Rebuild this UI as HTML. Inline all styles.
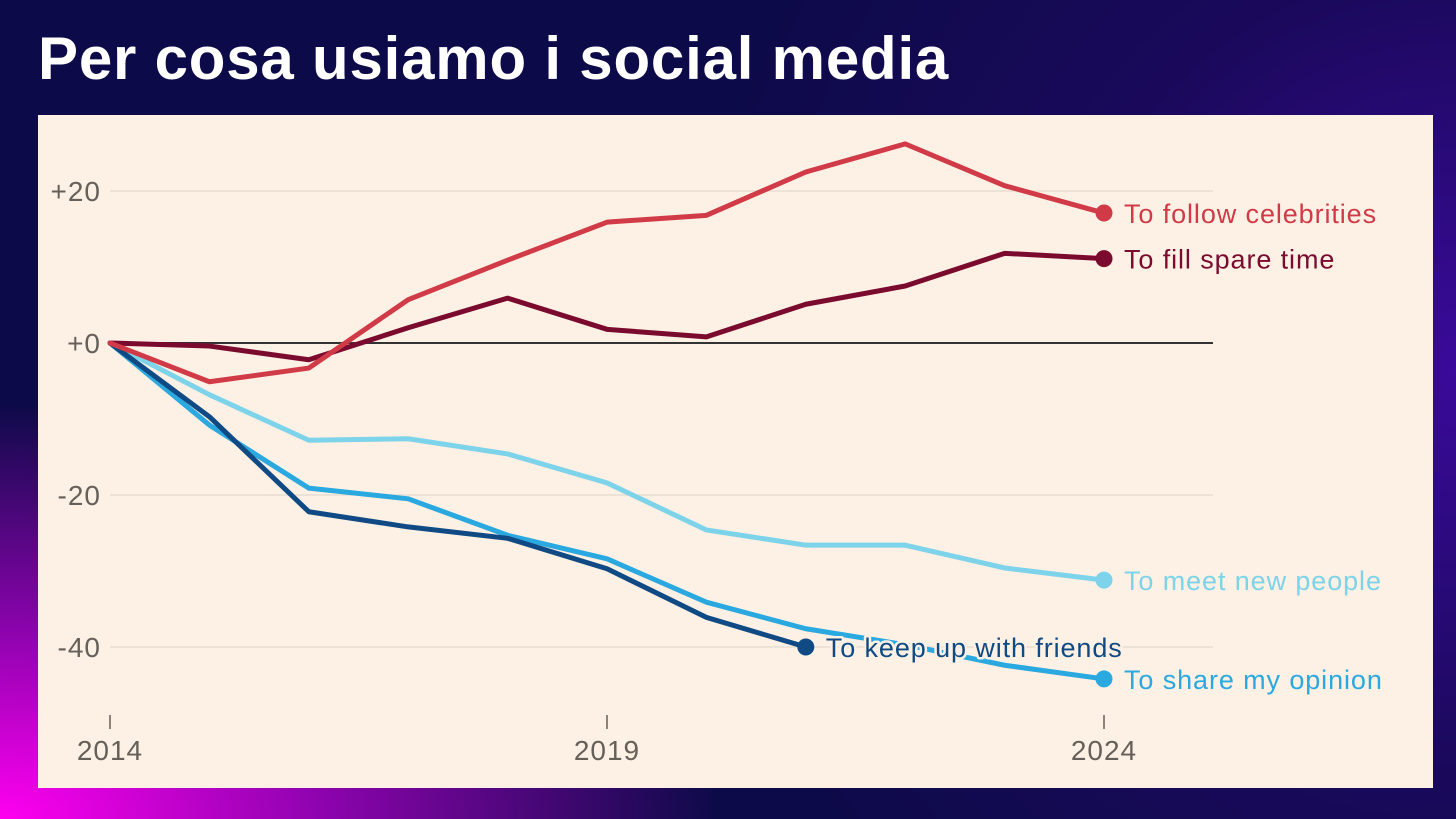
<!DOCTYPE html>
<html><head><meta charset="utf-8"><style>
html,body{margin:0;padding:0}
body{width:1456px;height:819px;overflow:hidden;position:relative;font-family:"Liberation Sans",sans-serif;
background:radial-gradient(ellipse 900px 520px at 0% 100%,#ff00f0 0%,rgba(200,0,220,0.7) 35%,rgba(60,0,120,0) 80%),
radial-gradient(ellipse 800px 800px at 100% 45%,#3a0a9a 0%,rgba(40,8,110,0.5) 50%,rgba(12,10,70,0) 100%),#0c0a48;}
#title{position:absolute;left:38px;top:24px;color:#fff;font-weight:bold;font-size:60px;letter-spacing:0.8px;margin:0;line-height:70px}
#panel{position:absolute;left:38px;top:115px;width:1395px;height:673px;background:#fdf0e4}
svg{position:absolute;left:0;top:0}
</style></head><body>
<h1 id="title">Per cosa usiamo i social media</h1>
<div id="panel"></div>
<svg id="chart" width="1456" height="819"></svg>
<script>
const years=[2014,2015,2016,2017,2018,2019,2020,2021,2022,2023,2024];
const yTicks=[20,0,-20,-40];
const yTickLabels=["+20","+0","-20","-40"];
const xTicks=[2014,2019,2024];
const celebrities=[0,-5.1,-3.3,5.7,10.9,15.9,16.8,22.5,26.2,20.7,17.1];
const spareTime=[0,-0.4,-2.2,2,5.9,1.8,0.8,5.1,7.5,11.8,11.1];
const meetPeople=[0,-6.8,-12.8,-12.6,-14.6,-18.4,-24.6,-26.6,-26.6,-29.6,-31.2];
const shareOpinion=[0,-10.8,-19.1,-20.5,-25.3,-28.4,-34.1,-37.6,-39.7,-42.4,-44.2];
const keepFriends=[0,-9.7,-22.2,-24.2,-25.7,-29.7,-36.1,-40];
const seriesNames=["To follow celebrities","To fill spare time","To meet new people","To share my opinion","To keep up with friends"];
const NS="http://www.w3.org/2000/svg";
const svg=document.getElementById('chart');
const x=v=>110+(v-2014)*99.4;
const y=v=>343-v*7.6;
function el(t,a,p){const e=document.createElementNS(NS,t);for(const k in a)e.setAttribute(k,a[k]);(p||svg).appendChild(e);return e;}
yTicks.forEach((t,i)=>{
  const g=el('line',{x1:110,x2:1213,y1:y(t),y2:y(t),stroke:t===0?'#333':'#e8ddd2','stroke-width':t===0?2:1.5});
  
  
  const l=el('text',{x:101,y:y(t)+10,'text-anchor':'end','font-size':28,fill:'#66605a','font-family':'Liberation Sans,sans-serif','letter-spacing':1});
  l.textContent=yTickLabels[i];
  
  
});
xTicks.forEach(t=>{
  const tk=el('line',{x1:x(t),x2:x(t),y1:715,y2:729,stroke:'#66605a','stroke-width':1.5});
  
  
  const l=el('text',{x:x(t),y:760,'text-anchor':'middle','font-size':28,fill:'#66605a','font-family':'Liberation Sans,sans-serif','letter-spacing':1});
  l.textContent=t;
  
  
});
const series=[
 [meetPeople,'#7dd3ea',seriesNames[2],'meet-new-people',x(2024)+20],
 [shareOpinion,'#2aa8e0',seriesNames[3],'share-my-opinion',x(2024)+20],
 [keepFriends,'#0f4a85',seriesNames[4],'keep-up-with-friends',x(2021)+20],
 [spareTime,'#7a0a2e',seriesNames[1],'fill-spare-time',x(2024)+20],
 [celebrities,'#d13a47',seriesNames[0],'follow-celebrities',x(2024)+20]
];
series.forEach(s=>{
  const [vals,c]=s;
  const pts=vals.map((v,i)=>x(years[i])+','+y(v)).join(' ');
  const p=el('polyline',{points:pts,fill:'none',stroke:c,'stroke-width':5,'stroke-linejoin':'round','stroke-linecap':'round'});
  
  
});
series.forEach(s=>{
  const [vals,c,name,key,lx]=s;
  const n=vals.length-1;
  const d=el('circle',{cx:x(years[n]),cy:y(vals[n]),r:8.5,fill:c});
  
  
  const t=el('text',{x:lx,y:y(vals[n])+10,'font-size':27,fill:c,'font-family':'Liberation Sans,sans-serif','letter-spacing':0.9,stroke:'#fdf0e4','stroke-width':5,'paint-order':'stroke','stroke-linejoin':'round'});
  t.textContent=name;
  
  
});
</script>
</body></html>
